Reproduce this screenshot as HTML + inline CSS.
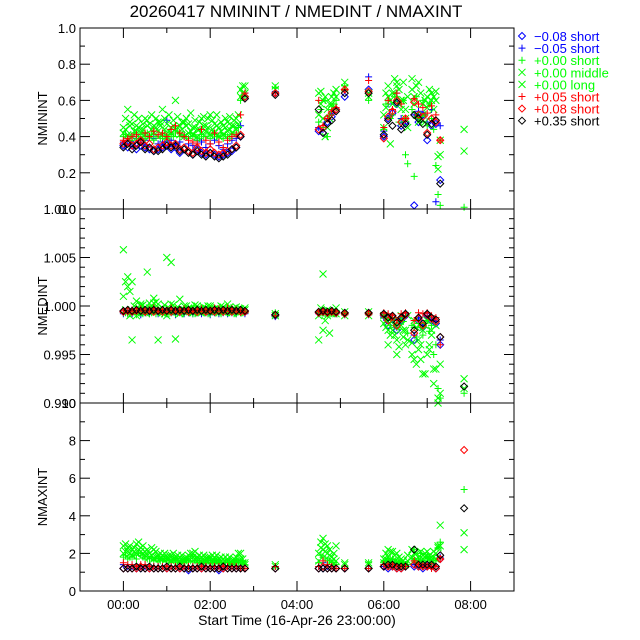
<!DOCTYPE html>
<html><head><meta charset="utf-8"><style>
html,body{margin:0;padding:0;background:#fff;}
svg{display:block;font-family:"Liberation Sans",sans-serif;}
</style></head><body>
<svg id="chart" width="640" height="640" viewBox="0 0 640 640" xmlns="http://www.w3.org/2000/svg">
<text x="296" y="17" font-size="17" text-anchor="middle" fill="#000">20260417 NMININT / NMEDINT / NMAXINT</text>
<g id="plots"></g>
<g id="legend"></g>
<text x="297" y="625" font-size="14" text-anchor="middle">Start Time (16-Apr-26 23:00:00)</text>
</svg>
<script>
const times=[0,0.1,0.2,0.3,0.4,0.5,0.6,0.7,0.8,0.9,1.0,1.1,1.2,1.3,1.4,1.5,1.6,1.7,1.8,1.9,2.0,2.1,2.2,2.3,2.4,2.5,2.6,2.7,2.8,3.5,4.5,4.6,4.7,4.8,4.9,5.1,5.65,6.0,6.1,6.2,6.3,6.4,6.5,6.7,6.8,6.9,7.0,7.1,7.2,7.3,7.85];
const timesB=[0.05,0.15,0.25,0.35,0.45,0.55,0.65,0.75,0.85,0.95,1.05,1.15,1.25,1.35,1.45,1.55,1.65,1.75,1.85,1.95,2.05,2.15,2.25,2.35,2.45,2.55,2.65,2.75,4.55,4.65,4.75,4.85,6.05,6.15,6.25,6.35,6.45,6.55,6.65,6.75,6.85,6.95,7.05,7.15,7.25];
const xTickLabels=["00:00","02:00","04:00","06:00","08:00"];
const xTickHours=[0,2,4,6,8];
const legendLabels=["\u22120.08 short","\u22120.05 short","+0.00 short","+0.00 middle","+0.00 long","+0.05 short","+0.08 short","+0.35 short"];
const N=null;
// NMININT
const minBlueDia=[0.35,0.34,0.36,0.33,0.35,0.34,0.33,0.32,0.33,0.34,0.36,0.33,0.34,0.31,0.33,0.32,0.30,0.33,0.31,0.30,0.31,0.30,0.29,0.30,0.31,0.32,0.34,0.40,0.62,0.64,0.43,0.42,0.48,0.51,0.55,0.62,0.66,0.40,0.50,0.53,0.58,0.46,0.48,0.02,0.48,0.52,0.38,0.46,0.47,0.16,N];
const minBluePlus=[0.37,0.38,0.36,0.39,0.37,0.38,0.40,0.39,0.36,0.37,0.49,0.38,0.36,0.37,0.40,0.36,0.35,0.38,0.37,0.34,0.36,0.38,0.35,0.33,0.36,0.38,0.39,0.46,0.64,0.65,0.45,0.44,0.50,0.53,0.56,0.66,0.73,0.43,0.58,0.55,0.64,0.50,0.47,0.52,0.54,0.52,0.48,0.55,0.04,0.46,N];
const minGreenShort=[0.40,0.39,0.38,0.40,0.41,0.39,0.40,0.38,0.41,0.40,0.39,0.41,0.42,0.40,0.41,0.39,0.40,0.38,0.41,0.40,0.39,0.41,0.40,0.39,0.40,0.41,0.42,0.60,0.62,0.67,0.48,0.45,0.40,0.55,0.60,0.68,0.60,0.44,0.60,0.52,0.62,0.58,0.30,0.18,0.50,0.60,0.46,0.50,0.24,0.02,0.01];
const minGreenMid=[0.45,0.55,0.47,0.46,0.44,0.50,0.47,0.46,0.48,0.55,0.47,0.45,0.60,0.46,0.48,0.47,0.45,0.44,0.50,0.46,0.52,0.47,0.45,0.46,0.48,0.46,0.50,0.66,0.68,0.68,0.64,0.60,0.55,0.62,0.66,0.70,0.64,0.52,0.68,0.64,0.70,0.60,0.55,0.62,0.70,0.58,0.62,0.64,0.65,0.38,0.44];
const minGreenLong=[0.42,0.41,0.40,0.43,0.42,0.41,0.40,0.42,0.43,0.41,0.40,0.42,0.44,0.41,0.40,0.42,0.41,0.40,0.42,0.43,0.41,0.42,0.40,0.41,0.43,0.42,0.44,0.62,0.64,0.66,0.52,0.50,0.45,0.58,0.62,0.67,0.62,0.45,0.62,0.58,0.68,0.55,0.50,0.58,0.48,0.52,0.56,0.60,0.60,0.30,0.32];
const minGreenShortB=[0.41,0.40,0.42,0.39,0.40,0.42,0.41,0.40,0.39,0.42,0.41,0.40,0.43,0.41,0.40,0.42,0.41,0.39,0.40,0.42,0.41,0.40,0.42,0.41,0.39,0.42,0.45,0.62,0.55,0.60,0.52,0.58,0.58,0.50,0.62,0.48,0.60,0.25,0.55,0.62,0.48,0.52,0.58,0.44,0.08];
const minGreenMidB=[0.50,0.48,0.52,0.50,0.47,0.49,0.52,0.50,0.48,0.50,0.52,0.49,0.51,0.48,0.50,0.53,0.49,0.48,0.51,0.50,0.49,0.52,0.48,0.50,0.51,0.49,0.52,0.68,0.65,0.62,0.58,0.64,0.64,0.60,0.72,0.66,0.70,0.62,0.72,0.68,0.64,0.60,0.66,0.62,0.29];
const minGreenLongB=[0.44,0.46,0.43,0.45,0.44,0.46,0.44,0.45,0.46,0.44,0.43,0.46,0.45,0.44,0.46,0.43,0.45,0.44,0.46,0.45,0.44,0.46,0.43,0.45,0.44,0.46,0.47,0.64,0.58,0.40,0.50,0.56,0.56,0.36,0.64,0.58,0.60,0.45,0.66,0.52,0.50,0.48,0.58,0.55,0.22];
const minRedPlus=[0.38,0.39,0.40,0.41,0.38,0.42,0.40,0.43,0.41,0.42,0.40,0.44,0.46,0.42,0.40,0.38,0.37,0.36,0.44,0.38,0.36,0.42,0.37,0.34,0.38,0.40,0.41,0.52,0.64,0.64,0.60,0.46,0.50,0.54,0.56,0.66,0.71,0.45,0.60,0.55,0.64,0.58,0.50,0.61,0.58,0.56,0.53,0.57,0.52,0.38,N];
const minRedDia=[0.36,0.37,0.35,0.36,0.38,0.35,0.36,0.33,0.34,0.35,0.37,0.35,0.36,0.33,0.34,0.32,0.31,0.34,0.32,0.31,0.33,0.31,0.30,0.31,0.32,0.33,0.35,0.41,0.62,0.64,0.44,0.45,0.50,0.53,0.55,0.66,0.65,0.39,0.51,0.54,0.60,0.48,0.50,0.59,0.52,0.51,0.42,0.50,0.48,0.38,N];
const minBlackDia=[0.34,0.36,0.33,0.35,0.37,0.33,0.34,0.32,0.32,0.33,0.35,0.34,0.35,0.32,0.33,0.31,0.30,0.32,0.30,0.29,0.31,0.29,0.28,0.29,0.30,0.33,0.34,0.40,0.61,0.63,0.55,0.42,0.47,0.49,0.54,0.64,0.64,0.41,0.49,0.46,0.59,0.44,0.47,0.52,0.50,0.47,0.41,0.47,0.49,0.14,N];
// NMEDINT
const medBlueDia=[0.9994,0.9995,0.9994,0.9995,0.9994,0.9995,0.9994,0.9995,0.9994,0.9995,0.9994,0.9995,0.9994,0.9995,0.9994,0.9995,0.9994,0.9995,0.9994,0.9995,0.9994,0.9995,0.9994,0.9995,0.9994,0.9995,0.9994,0.9995,0.9994,0.9990,0.9993,0.9994,0.9993,0.9994,0.9993,0.9992,0.9992,0.9990,0.9980,0.9988,0.9975,0.9985,0.9990,0.9965,0.9985,0.9978,0.9990,0.9985,0.9982,0.9960,N];
const medBluePlus=[0.9992,0.9993,0.9992,0.9993,0.9991,0.9993,0.9992,0.9994,0.9992,0.9993,0.9992,0.9993,0.9991,0.9993,0.9992,0.9993,0.9992,0.9993,0.9992,0.9993,0.9991,0.9993,0.9992,0.9993,0.9992,0.9993,0.9992,0.9993,0.9992,0.9989,0.9992,0.9993,0.9992,0.9993,0.9992,0.9991,0.9991,0.9988,0.9983,0.9986,0.9978,0.9988,0.9990,0.9970,0.9988,0.9980,0.9990,0.9986,0.9984,0.9965,N];
const medGreenShort=[0.9993,0.9992,0.9994,0.9991,0.9993,0.9995,0.9992,0.9994,0.9993,0.9992,0.9994,0.9993,0.9992,0.9995,0.9993,0.9994,0.9992,0.9993,0.9994,0.9993,0.9992,0.9994,0.9993,0.9995,0.9993,0.9994,0.9992,0.9993,0.9994,0.9993,0.9993,0.9994,0.9992,0.9993,0.9994,0.9993,0.9992,0.9990,0.9985,0.9988,0.9980,0.9986,0.9990,0.9978,0.9982,0.9970,0.9985,0.9980,0.9960,0.9905,0.9910];
const medGreenMid=[1.0058,1.0030,1.0025,1.0005,1.0002,0.9996,1.0003,1.0008,1.0002,0.9998,1.0050,1.0045,0.9995,1.0007,1.0000,0.9997,0.9993,1.0000,0.9996,0.9998,1.0000,0.9997,0.9995,0.9999,1.0002,0.9996,0.9999,0.9997,0.9998,0.9992,0.9990,1.0033,0.9996,0.9992,0.9998,0.9990,0.9990,0.9982,0.9975,0.9985,0.9965,0.9980,0.9960,0.9985,0.9955,0.9975,0.9985,0.9970,0.9980,0.9940,0.9925];
const medGreenLong=[1.0010,1.0020,0.9965,0.9990,1.0000,0.9993,0.9998,1.0003,0.9965,0.9993,0.9990,1.0002,0.9966,0.9992,0.9996,0.9998,0.9994,0.9997,0.9993,0.9996,0.9998,0.9995,0.9997,0.9994,0.9996,0.9993,0.9995,0.9994,0.9996,0.9990,0.9965,0.9975,0.9990,0.9994,0.9992,0.9994,0.9994,0.9990,0.9960,0.9975,0.9950,0.9990,0.9975,0.9945,0.9965,0.9930,0.9950,0.9975,0.9935,0.9910,0.9915];
const medGreenShortB=[0.9993,0.9992,0.9994,0.9993,0.9992,0.9994,0.9993,0.9992,0.9994,0.9993,0.9992,0.9994,0.9993,0.9992,0.9994,0.9993,0.9992,0.9994,0.9993,0.9992,0.9994,0.9993,0.9992,0.9994,0.9993,0.9992,0.9994,0.9993,0.9993,0.9992,0.9994,0.9993,0.9988,0.9980,0.9985,0.9976,0.9984,0.9972,0.9980,0.9968,0.9978,0.9982,0.9974,0.9950,0.9915];
const medGreenMidB=[1.0025,1.0015,1.0000,0.9998,1.0001,1.0035,0.9999,1.0004,0.9997,1.0001,0.9998,1.0001,0.9999,0.9996,1.0000,0.9998,1.0001,0.9997,0.9999,1.0000,0.9996,0.9998,1.0000,0.9997,0.9999,0.9998,0.9997,0.9996,0.9998,0.9993,0.9972,0.9994,0.9978,0.9988,0.9970,0.9985,0.9968,0.9990,0.9962,0.9978,0.9945,0.9980,0.9960,0.9935,0.9905];
const medGreenLongB=[0.9996,0.9990,0.9994,0.9996,0.9993,0.9995,0.9997,0.9994,0.9996,0.9992,0.9995,0.9997,0.9994,0.9996,0.9993,0.9995,0.9997,0.9994,0.9996,0.9995,0.9993,0.9996,0.9995,0.9994,0.9996,0.9995,0.9993,0.9995,0.9993,0.9985,0.9995,0.9992,0.9985,0.9970,0.9980,0.9958,0.9975,0.9965,0.9950,0.9940,0.9960,0.9930,0.9955,0.9920,0.9900];
const medRedPlus=[0.9995,0.9994,0.9996,0.9995,0.9997,0.9995,0.9996,0.9998,0.9995,0.9996,0.9994,0.9998,0.9996,0.9995,0.9997,0.9996,0.9995,0.9996,0.9997,0.9995,0.9996,0.9998,0.9997,0.9996,0.9998,0.9997,0.9996,0.9995,0.9994,0.9990,0.9994,0.9995,0.9994,0.9995,0.9994,0.9992,0.9992,0.9993,0.9992,0.9990,0.9985,0.9992,0.9993,0.9985,0.9993,0.9992,0.9993,0.9990,0.9988,0.9960,N];
const medRedDia=[0.9994,0.9995,0.9994,0.9995,0.9995,0.9994,0.9995,0.9994,0.9995,0.9994,0.9995,0.9994,0.9995,0.9994,0.9995,0.9994,0.9995,0.9994,0.9995,0.9994,0.9995,0.9994,0.9995,0.9994,0.9995,0.9994,0.9995,0.9994,0.9994,0.9991,0.9993,0.9994,0.9993,0.9994,0.9993,0.9992,0.9992,0.9991,0.9985,0.9989,0.9980,0.9987,0.9991,0.9972,0.9987,0.9980,0.9991,0.9987,0.9984,0.9968,N];
const medBlackDia=[0.9995,0.9996,0.9995,0.9996,0.9995,0.9996,0.9995,0.9996,0.9995,0.9996,0.9995,0.9996,0.9995,0.9996,0.9995,0.9996,0.9995,0.9996,0.9995,0.9996,0.9995,0.9996,0.9995,0.9996,0.9995,0.9996,0.9995,0.9996,0.9995,0.9991,0.9994,0.9995,0.9994,0.9995,0.9994,0.9993,0.9993,0.9992,0.9988,0.9990,0.9983,0.9988,0.9992,0.9975,0.9988,0.9982,0.9992,0.9988,0.9986,0.9968,0.9917];
// NMAXINT
const maxBlueDia=[1.2,1.2,1.2,1.2,1.2,1.2,1.2,1.2,1.2,1.2,1.2,1.2,1.2,1.2,1.2,1.1,1.2,1.2,1.2,1.2,1.2,1.2,1.1,1.2,1.2,1.2,1.2,1.2,1.2,1.2,1.2,1.2,1.2,1.2,1.2,1.2,1.2,1.3,1.2,1.3,1.2,1.2,1.3,1.3,1.3,1.2,1.3,1.3,1.2,1.7,N];
const maxBluePlus=[1.4,1.3,1.3,1.3,1.3,1.3,1.3,1.3,1.3,1.3,1.3,1.3,1.3,1.3,1.3,1.3,1.3,1.3,1.3,1.3,1.3,1.3,1.3,1.3,1.3,1.3,1.3,1.3,1.2,1.3,1.3,1.5,1.3,1.3,1.2,1.2,1.2,1.3,1.3,1.4,1.3,1.3,1.4,1.4,1.4,1.3,1.4,1.3,1.3,1.8,N];
const maxGreenShort=[1.8,1.7,1.8,1.7,1.9,1.7,1.7,1.6,1.6,1.6,1.6,1.5,1.6,1.5,1.5,1.6,1.6,1.5,1.5,1.5,1.5,1.5,1.5,1.5,1.5,1.4,1.5,1.5,1.4,1.3,1.5,1.8,1.6,1.5,1.4,1.3,1.5,1.5,1.6,1.7,1.5,1.5,1.4,2.2,1.6,1.6,1.8,1.5,1.6,2.6,5.4];
const maxGreenMid=[2.4,2.3,2.2,2.5,2.3,2.1,2.0,2.2,1.9,1.9,1.8,1.9,1.8,1.8,1.7,1.9,2.0,1.8,1.8,1.7,1.8,1.8,1.7,1.7,1.7,1.6,1.8,2.0,1.5,1.4,2.0,2.8,2.4,1.8,2.4,1.5,1.5,1.7,2.2,2.1,2.0,1.7,1.5,2.0,1.8,1.9,2.1,1.8,2.0,3.5,3.1];
const maxGreenLong=[2.0,2.1,1.9,2.0,2.1,1.9,1.8,1.7,1.8,1.7,1.7,1.6,1.7,1.6,1.6,1.7,1.8,1.7,1.6,1.6,1.7,1.6,1.6,1.5,1.6,1.5,1.6,1.7,1.4,1.3,1.6,2.2,2.0,1.6,1.6,1.4,1.4,1.5,1.8,1.6,1.5,1.5,1.4,1.6,1.6,1.7,1.8,1.6,1.7,2.4,2.2];
const maxGreenShortB=[1.9,1.8,1.9,2.0,1.8,1.7,1.8,1.7,1.6,1.7,1.6,1.7,1.6,1.6,1.7,1.6,1.6,1.6,1.5,1.6,1.5,1.6,1.5,1.5,1.5,1.6,1.5,1.6,1.9,1.7,1.6,1.5,1.6,1.7,1.5,1.6,1.5,1.4,1.7,1.5,2.0,1.6,1.7,1.6,2.3];
const maxGreenMidB=[2.5,2.4,2.3,2.6,2.4,2.2,2.3,2.1,2.0,2.0,1.9,2.0,1.9,1.9,1.8,2.0,2.1,1.9,1.9,1.8,1.9,1.9,1.8,1.8,1.8,1.7,2.0,1.7,2.6,2.5,2.2,2.0,2.0,2.1,1.9,1.8,1.6,1.9,2.2,2.0,2.1,2.0,1.9,2.1,2.4];
const maxGreenLongB=[2.1,2.0,2.1,2.2,2.0,1.9,1.9,1.8,1.7,1.8,1.7,1.7,1.7,1.6,1.7,1.8,1.7,1.7,1.6,1.7,1.6,1.6,1.6,1.6,1.5,1.6,1.6,1.5,2.3,2.1,1.9,1.7,1.7,1.6,1.6,1.5,1.4,1.6,1.8,1.7,1.6,1.8,1.7,1.8,2.3];
const maxRedPlus=[1.5,1.4,1.4,1.3,1.4,1.4,1.3,1.3,1.3,1.3,1.3,1.3,1.3,1.3,1.3,1.3,1.3,1.3,1.3,1.3,1.3,1.3,1.3,1.3,1.3,1.3,1.3,1.2,1.2,1.3,1.3,1.6,1.4,1.3,1.2,1.2,1.2,1.4,1.3,1.4,1.3,1.3,1.3,1.6,1.4,1.3,1.3,1.2,1.3,1.7,N];
const maxRedDia=[1.2,1.2,1.2,1.2,1.3,1.2,1.2,1.2,1.2,1.2,1.2,1.2,1.2,1.2,1.2,1.2,1.2,1.2,1.2,1.2,1.2,1.2,1.2,1.2,1.2,1.2,1.2,1.2,1.2,1.2,1.2,1.3,1.2,1.2,1.2,1.2,1.2,1.3,1.3,1.3,1.2,1.2,1.3,1.4,1.3,1.3,1.3,1.3,1.2,1.7,7.5];
const maxBlackDia=[1.2,1.2,1.2,1.3,1.2,1.2,1.3,1.2,1.2,1.2,1.3,1.2,1.2,1.3,1.2,1.2,1.2,1.2,1.3,1.2,1.2,1.2,1.2,1.3,1.2,1.2,1.2,1.2,1.2,1.2,1.2,1.2,1.2,1.2,1.2,1.2,1.2,1.3,1.4,1.4,1.3,1.3,1.3,2.2,1.4,1.4,1.4,1.4,1.3,1.9,4.4];

const SVGNS="http://www.w3.org/2000/svg";
const XL=80,XR=514,TMIN=-1,TMAX=9;
function xs(t){return XL+(t-TMIN)/(TMAX-TMIN)*(XR-XL);}
const colors=["#0000ff","#0000ff","#00ff00","#00ff00","#00ff00","#ff0000","#ff0000","#000000"];
const shapes=["dia","plus","plus","x","x","plus","dia","dia"];
function el(tag,attrs,parent){const e=document.createElementNS(SVGNS,tag);for(const k in attrs)e.setAttribute(k,attrs[k]);parent.appendChild(e);return e;}
function marker(g,shape,cx,cy,c){
  const r=3.5;let d;
  if(shape==="dia")d=`M${cx} ${cy-r}L${cx+r} ${cy}L${cx} ${cy+r}L${cx-r} ${cy}Z`;
  else if(shape==="plus")d=`M${cx-r} ${cy}H${cx+r}M${cx} ${cy-r}V${cy+r}`;
  else d=`M${cx-r} ${cy-r}L${cx+r} ${cy+r}M${cx-r} ${cy+r}L${cx+r} ${cy-r}`;
  const p=el("path",{d:d,stroke:c,fill:"none","stroke-width":"1"},g);
  
  
}
const panels=[
 {name:"nminint",title:"NMININT",top:28,bot:209,min:0,max:1,major:0.2,minor:0.1,dec:1,series:[minBlueDia,minBluePlus,minGreenShort,minGreenMid,minGreenLong,minRedPlus,minRedDia,minBlackDia],extra:[minGreenShortB,minGreenMidB,minGreenLongB]},
 {name:"nmedint",title:"NMEDINT",top:209,bot:403,min:0.990,max:1.010,major:0.005,minor:0.001,dec:3,series:[medBlueDia,medBluePlus,medGreenShort,medGreenMid,medGreenLong,medRedPlus,medRedDia,medBlackDia],extra:[medGreenShortB,medGreenMidB,medGreenLongB]},
 {name:"nmaxint",title:"NMAXINT",top:403,bot:591,min:0,max:10,major:2,minor:1,dec:0,series:[maxBlueDia,maxBluePlus,maxGreenShort,maxGreenMid,maxGreenLong,maxRedPlus,maxRedDia,maxBlackDia],extra:[maxGreenShortB,maxGreenMidB,maxGreenLongB]}
];
const plots=document.getElementById("plots");
panels.forEach((P,pi)=>{
  const g=el("g",{},plots);
  
  
  const ys=v=>P.bot-(v-P.min)/(P.max-P.min)*(P.bot-P.top);
  const dg=el("g",{},g);
  
  
  const inR=v=>v!==null&&v>=P.min-1e-9&&v<=P.max+1e-9;
  P.series.forEach((arr,si)=>{
    arr.forEach((v,i)=>{if(inR(v))marker(dg,shapes[si],xs(times[i]),ys(v),colors[si]);});
    if(si>=2&&si<=4){P.extra[si-2].forEach((v,i)=>{if(inR(v))marker(dg,shapes[si],xs(timesB[i]),ys(v),colors[si]);});}
  });
  const fr=el("rect",{x:XL,y:P.top,width:XR-XL,height:P.bot-P.top,fill:"none",stroke:"#000","stroke-width":"1"},g);
  
  
  const ag=el("g",{stroke:"#000","stroke-width":"1"},g);
  
  
  const nmin=Math.round((P.max-P.min)/P.minor);
  for(let k=0;k<=nmin;k++){const v=P.min+k*P.minor;const isMaj=Math.abs(v/P.major-Math.round(v/P.major))<1e-6;const y=ys(v);const L=isMaj?10:5;
    el("line",{x1:XL,x2:XL+L,y1:y,y2:y},ag);el("line",{x1:XR,x2:XR-L,y1:y,y2:y},ag);
    if(isMaj){const t=el("text",{x:XL-4,y:y+5,"font-size":"13","text-anchor":"end",fill:"#000",stroke:"none"},g);t.textContent=v.toFixed(P.dec);
      
      }
  }
  for(let h=TMIN;h<=TMAX;h++){const x=xs(h);const L=(h%2===0)?10:5;
    el("line",{x1:x,x2:x,y1:P.bot,y2:P.bot-L},ag);el("line",{x1:x,x2:x,y1:P.top,y2:P.top+L},ag);}
  const yt=el("text",{x:0,y:0,"font-size":"13","text-anchor":"middle",transform:`translate(47,${(P.top+P.bot)/2}) rotate(-90)`},g);
  yt.textContent=P.title;
  
  
  if(pi===2){xTickHours.forEach((h,i)=>{const t=el("text",{x:xs(h),y:609,"font-size":"13","text-anchor":"middle"},g);t.textContent=xTickLabels[i];
    
    });}
});
const lg=document.getElementById("legend");
legendLabels.forEach((lab,i)=>{const y=36+i*12.1;
  const eg=el("g",{},lg);
  
  
  marker(eg,shapes[i],522,y,colors[i]);
  const t=el("text",{x:534,y:y+5,"font-size":"13",fill:colors[i]},eg);t.textContent=lab;
  
  
});
</script>
</body></html>
